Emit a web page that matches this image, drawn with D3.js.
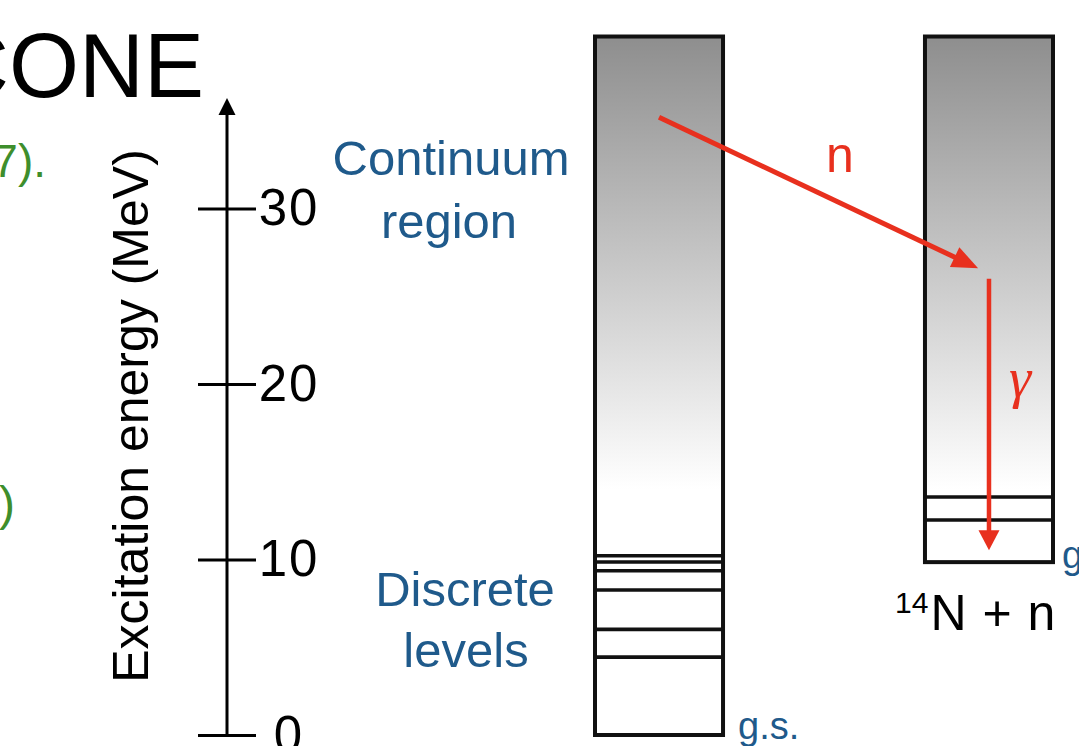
<!DOCTYPE html>
<html><head><meta charset="utf-8">
<script src="https://cdn.jsdelivr.net/npm/d3@7"></script>
<style>html,body{margin:0;padding:0;background:#fff;overflow:hidden}svg{display:block}</style>
</head><body>
<svg id="chart" width="1079" height="746"></svg>
<script>
// Excitation-energy axis (MeV)
const axisTicks = [0, 10, 20, 30];
const axisTip = 36.3;

// Level schemes: compound nucleus (left) and residual 14N + n (right)
const columns = ["compound", "residual"];
const groundEnergy = [0, 9.85];
const topEnergy = [39.8, 39.8];
const levelsCompound = [4.44, 6.02, 8.26, 9.36, 9.86, 10.21];
const levelsResidual = [12.25, 13.56];

// Decay path: neutron emission then gamma cascade
const neutronStart = 35.2, neutronEnd = 26.3;
const gammaStart = 26.0, gammaEnd = 9.85;

// Shading of the continuum (MeV where the grey starts / fades out)
const shadeTop = 39.8, shadeBottom = 14;

const FONT = "'Liberation Sans', Arial, sans-serif";
const BLUE = "#1f5a8b", RED = "#e8301e", GREEN = "#3e8e2c";

const svg = d3.select("#chart");
const y = d3.scaleLinear().domain([0, 40]).range([735, 33]);
const x = d3.scaleBand().domain(columns).range([595, 1053]).paddingInner(0.612).paddingOuter(0);
const bw = x.bandwidth();

// partial slide text around the diagram
svg.append("text").attr("x", 204).attr("y", 97).attr("text-anchor", "end")
  .attr("font-family", FONT).attr("font-size", 90).attr("fill", "#000").text("CONE");
svg.append("text").attr("x", 46).attr("y", 177).attr("text-anchor", "end")
  .attr("font-family", FONT).attr("font-size", 46).attr("fill", GREEN).text("7).");
svg.append("text").attr("x", -1).attr("y", 520)
  .attr("font-family", FONT).attr("font-size", 48).attr("fill", GREEN).text(")");

// gradient for the continuum
const grad = svg.append("defs").append("linearGradient").attr("id", "cont")
  .attr("gradientUnits", "userSpaceOnUse")
  .attr("x1", 0).attr("x2", 0).attr("y1", y(shadeTop)).attr("y2", y(shadeBottom));
grad.append("stop").attr("offset", 0).attr("stop-color", "#8e8e8e");
grad.append("stop").attr("offset", 1).attr("stop-color", "#ffffff");

// axis
const axisX = 227;
const ax = svg.append("g").attr("transform", `translate(${axisX},0)`)
  .call(d3.axisRight(y).tickValues(axisTicks).tickSize(29).tickPadding(2));
ax.select(".domain").remove();
ax.selectAll(".tick line").attr("x1", -29).attr("stroke", "#000").attr("stroke-width", 3);
ax.selectAll(".tick text").attr("x", 62).attr("text-anchor", "middle")
  .attr("font-family", FONT).attr("font-size", 51).attr("letter-spacing", 2)
  .attr("fill", "#000");
ax.append("line").attr("x1", 0).attr("x2", 0).attr("y1", y(0)).attr("y2", y(axisTip) + 14)
  .attr("stroke", "#000").attr("stroke-width", 3);
ax.append("path")
  .attr("d", `M0,${y(axisTip)} L-8.5,${y(axisTip) + 17} L8.5,${y(axisTip) + 17} Z`)
  .attr("fill", "#000");

svg.append("text")
  .attr("transform", "translate(148,416) rotate(-90)")
  .attr("text-anchor", "middle").attr("font-family", FONT).attr("font-size", 50)
  .attr("fill", "#000").text("Excitation energy (MeV)");

// region labels
const lbl = (t, cx, by) => svg.append("text").attr("x", cx).attr("y", by)
  .attr("text-anchor", "middle").attr("font-family", FONT).attr("font-size", 49)
  .attr("fill", BLUE).text(t);
lbl("Continuum", 451, 175);
lbl("region", 449, 238);
lbl("Discrete", 465, 606);
lbl("levels", 466, 667);

// bars
columns.forEach((c, i) => {
  svg.append("rect")
    .attr("x", x(c)).attr("y", y(topEnergy[i]))
    .attr("width", bw).attr("height", y(groundEnergy[i]) - y(topEnergy[i]))
    .attr("fill", "url(#cont)").attr("stroke", "#111").attr("stroke-width", 4);
});

// discrete levels
const drawLevels = (c, lv) => svg.append("g").selectAll("line").data(lv).join("line")
  .attr("x1", x(c)).attr("x2", x(c) + bw)
  .attr("y1", d => y(d)).attr("y2", d => y(d))
  .attr("stroke", "#111").attr("stroke-width", 3.6);
drawLevels("compound", levelsCompound);
drawLevels("residual", levelsResidual);

// arrows
function arrow(x0, y0, x1, y1, w, headLen, headW) {
  const dx = x1 - x0, dy = y1 - y0, L = Math.hypot(dx, dy);
  const ux = dx / L, uy = dy / L, px = -uy, py = ux;
  const bx = x1 - ux * headLen, by = y1 - uy * headLen;
  svg.append("line").attr("x1", x0).attr("y1", y0).attr("x2", bx + ux * 2).attr("y2", by + uy * 2)
    .attr("stroke", RED).attr("stroke-width", w);
  svg.append("path")
    .attr("d", `M${x1},${y1} L${bx + px * headW / 2},${by + py * headW / 2} L${bx - px * headW / 2},${by - py * headW / 2} Z`)
    .attr("fill", RED);
}
const cxL = x("compound") + bw / 2, cxR = x("residual") + bw / 2;
{
  // neutron arrow stops just short of the residual column's centre
  const x0 = cxL, y0 = y(neutronStart), x1 = cxR, y1 = y(neutronEnd);
  const L = Math.hypot(x1 - x0, y1 - y0), s = (L - 12) / L;
  arrow(x0, y0, x0 + (x1 - x0) * s, y0 + (y1 - y0) * s, 5, 26, 22);
}
arrow(cxR, y(gammaStart), cxR, y(gammaEnd) - 12, 4.5, 20, 21);

svg.append("text").attr("x", 840).attr("y", 172).attr("text-anchor", "middle")
  .attr("font-family", FONT).attr("font-size", 50).attr("fill", RED).text("n");
svg.append("text").attr("x", 1020).attr("y", 397).attr("text-anchor", "middle")
  .attr("font-family", "'Liberation Serif', serif").attr("font-style", "italic")
  .attr("font-size", 56).attr("fill", RED).text("γ");

// ground-state labels
svg.append("text").attr("x", x("compound") + bw + 15).attr("y", y(groundEnergy[0]) + 4)
  .attr("font-family", FONT).attr("font-size", 38).attr("fill", BLUE).text("g.s.");
svg.append("text").attr("x", x("residual") + bw + 9).attr("y", y(groundEnergy[1]) + 6)
  .attr("font-family", FONT).attr("font-size", 38).attr("fill", BLUE).text("g.s.");

// residual system label
const t = svg.append("text").attr("x", 895).attr("y", 630)
  .attr("font-family", FONT).attr("fill", "#000");
t.append("tspan").attr("font-size", 30).attr("dy", -17).text("14");
t.append("tspan").attr("font-size", 50).attr("dy", 17).attr("dx", 2)
  .attr("letter-spacing", 1).text("N + n");
</script>
</body></html>
